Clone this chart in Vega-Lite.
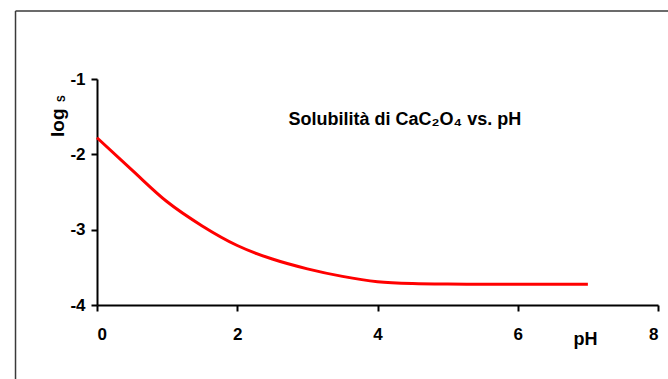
{
  "$schema": "https://vega.github.io/schema/vega-lite/v6.json",
  "width": 561,
  "height": 226,
  "autosize": {"type": "none"},
  "padding": {"left": 97, "top": 79, "right": 10, "bottom": 74},
  "background": "white",
  "config": {"view": {"stroke": null}, "font": "Liberation Sans"},
  "datasets": {
    "curve": [
      {"pH": 0.0, "logS": -1.78},
      {"pH": 0.5, "logS": -2.21},
      {"pH": 1.0, "logS": -2.63},
      {"pH": 1.5, "logS": -2.95},
      {"pH": 2.0, "logS": -3.21},
      {"pH": 2.5, "logS": -3.39},
      {"pH": 3.0, "logS": -3.52},
      {"pH": 3.5, "logS": -3.62},
      {"pH": 4.0, "logS": -3.69},
      {"pH": 4.5, "logS": -3.715},
      {"pH": 5.0, "logS": -3.722},
      {"pH": 5.5, "logS": -3.724},
      {"pH": 6.0, "logS": -3.725},
      {"pH": 6.5, "logS": -3.725},
      {"pH": 7.0, "logS": -3.725}
    ],
    "frameV": [{"x": -1.162, "y": -0.097, "y2": -5.2}],
    "frameH": [{"x": -1.162, "x2": 9.5, "y": -0.097}],
    "labels": [
      {"x": 4.39, "y": -1.544, "t": "Solubilità di CaC₂O₄ vs. pH"}
    ],
    "ylab": [{"x": -0.555, "y": -1.58, "t": "log"}],
    "ysub": [{"x": -0.50, "y": -1.26, "t": "S"}]
  },
  "layer": [
    {
      "data": {"name": "frameV"},
      "mark": {"type": "rule", "color": "#3a3a3a", "strokeWidth": 1.5, "clip": false},
      "encoding": {
        "x": {"field": "x", "type": "quantitative"},
        "y": {"field": "y", "type": "quantitative"},
        "y2": {"field": "y2"}
      }
    },
    {
      "data": {"name": "frameH"},
      "mark": {"type": "rule", "color": "#3a3a3a", "strokeWidth": 1.5, "clip": false},
      "encoding": {
        "x": {"field": "x", "type": "quantitative"},
        "x2": {"field": "x2"},
        "y": {"field": "y", "type": "quantitative"}
      }
    },
    {
      "data": {"name": "curve"},
      "mark": {"type": "line", "color": "#ff0000", "strokeWidth": 3, "interpolate": "monotone"},
      "encoding": {
        "x": {
          "field": "pH", "type": "quantitative",
          "scale": {"domain": [0, 8], "nice": false, "zero": false},
          "axis": {
            "values": [0, 2, 4, 6, 8],
            "grid": false,
            "domainColor": "black", "domainWidth": 2,
            "tickColor": "black", "tickWidth": 2, "tickSize": 6,
            "labelFont": "Liberation Sans", "labelFontSize": 17, "labelFontWeight": "bold",
            "labelColor": "black", "labelPadding": 15,
            "labelExpr": "'' + datum.value",
            "title": "pH",
            "titleFont": "Liberation Sans", "titleFontSize": 18, "titleFontWeight": "bold",
            "titleColor": "black",
            "titleX": 488, "titleY": 34, "titleAlign": "center", "titleBaseline": "middle"
          }
        },
        "y": {
          "field": "logS", "type": "quantitative",
          "scale": {"domain": [-4, -1], "nice": false, "zero": false},
          "axis": {
            "values": [-4, -3, -2, -1],
            "grid": false,
            "domainColor": "black", "domainWidth": 2,
            "tickColor": "black", "tickWidth": 2, "tickSize": 6,
            "labelFont": "Liberation Sans", "labelFontSize": 17, "labelFontWeight": "bold",
            "labelColor": "black", "labelPadding": 6,
            "labelExpr": "'' + datum.value",
            "title": null
          }
        }
      }
    },
    {
      "data": {"name": "labels"},
      "mark": {"type": "text", "font": "Liberation Sans", "fontSize": 18, "fontWeight": "bold", "color": "black", "align": "center", "baseline": "middle", "clip": false},
      "encoding": {
        "x": {"field": "x", "type": "quantitative"},
        "y": {"field": "y", "type": "quantitative"},
        "text": {"field": "t"}
      }
    },
    {
      "data": {"name": "ylab"},
      "mark": {"type": "text", "font": "Liberation Sans", "fontSize": 19, "fontWeight": "bold", "color": "black", "align": "center", "baseline": "middle", "angle": 270, "clip": false},
      "encoding": {
        "x": {"field": "x", "type": "quantitative"},
        "y": {"field": "y", "type": "quantitative"},
        "text": {"field": "t"}
      }
    },
    {
      "data": {"name": "ysub"},
      "mark": {"type": "text", "font": "Liberation Sans", "fontSize": 10, "fontWeight": "bold", "color": "black", "align": "center", "baseline": "middle", "angle": 270, "clip": false},
      "encoding": {
        "x": {"field": "x", "type": "quantitative"},
        "y": {"field": "y", "type": "quantitative"},
        "text": {"field": "t"}
      }
    }
  ]
}
